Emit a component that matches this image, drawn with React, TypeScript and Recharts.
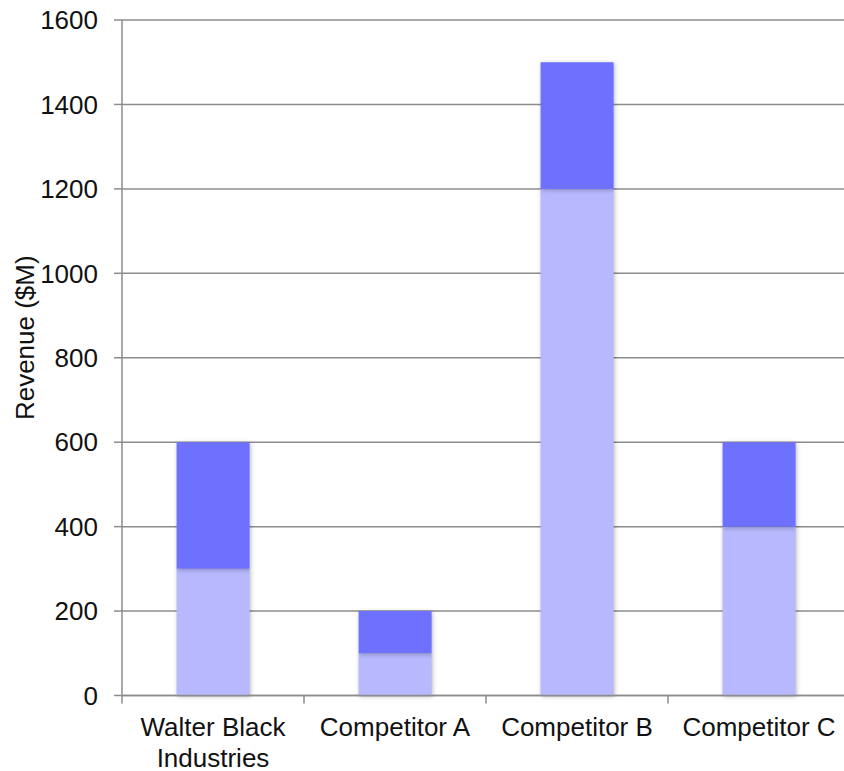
import React from 'react';
import { BarChart, Bar, XAxis, YAxis, CartesianGrid } from 'recharts';

const categories = ['Walter Black\nIndustries', 'Competitor A', 'Competitor B', 'Competitor C'];
const baseRevenue = [300, 100, 1200, 400];
const addedRevenue = [300, 100, 300, 200];
const yTicks = [0, 200, 400, 600, 800, 1000, 1200, 1400, 1600];

const data = categories.map((name, i) => ({
  name,
  base: baseRevenue[i],
  added: addedRevenue[i],
}));

const FONT = '"Liberation Sans", Arial, Helvetica, sans-serif';
const GRID = '#8c8c8c';
const FS = 26;

const CategoryTick = (props: any) => {
  const { x, y, payload, index } = props;
  const half = payload.offset || 0;
  const lines = String(payload.value).split('\n');
  return (
    <g>
      <line x1={x - half} x2={x - half} y1={y} y2={y + 8} stroke={GRID} strokeWidth={1.5} />
      {index === categories.length - 1 && (
        <line x1={x + half} x2={x + half} y1={y} y2={y + 8} stroke={GRID} strokeWidth={1.5} />
      )}
      <text x={x} y={y + 40} textAnchor="middle" fill="#111" fontSize={FS} fontFamily={FONT}>
        {lines.map((ln, i) => (
          <tspan key={i} x={x} dy={i === 0 ? 0 : 31}>
            {ln}
          </tspan>
        ))}
      </text>
    </g>
  );
};

const AxisTitle = (props: any) => {
  const { viewBox } = props;
  const cx = 34;
  const cy = viewBox.y + viewBox.height / 2 - 20;
  return (
    <text
      x={cx}
      y={cy}
      transform={`rotate(-90, ${cx}, ${cy})`}
      textAnchor="middle"
      fontSize={FS}
      fontFamily={FONT}
      fill="#111"
    >
      Revenue ($M)
    </text>
  );
};

export default function App() {
  return (
    <div style={{ position: 'fixed', left: 0, top: 0, width: 844, height: 771, overflow: 'hidden', background: '#fff' }}>
      <style>{`.recharts-bar-rectangle path { filter: drop-shadow(1px 1px 2px rgba(0,0,0,0.28)); }`}</style>
      <BarChart
        width={850}
        height={771}
        data={data}
        margin={{ top: 20, right: 0, bottom: 0, left: 0 }}
        barCategoryGap="30%"
      >
        <CartesianGrid vertical={false} stroke={GRID} strokeWidth={1.5} />
        <XAxis
          dataKey="name"
          height={75.5}
          axisLine={{ stroke: GRID, strokeWidth: 1.5 }}
          tickLine={false}
          tickSize={0}
          tickMargin={0}
          interval={0}
          tick={<CategoryTick />}
        />
        <YAxis
          width={122}
          domain={[0, 1600]}
          ticks={yTicks}
          interval={0}
          axisLine={{ stroke: GRID, strokeWidth: 1.5 }}
          tickLine={{ stroke: GRID, strokeWidth: 1.5 }}
          tickSize={8}
          tickMargin={16}
          tick={{ fontSize: FS, fontFamily: FONT, fill: '#111' }}
          label={<AxisTitle />}
        />
        <Bar dataKey="base" stackId="rev" fill="#b7b8fd" isAnimationActive={false} />
        <Bar dataKey="added" stackId="rev" fill="#6e70fe" isAnimationActive={false} />
      </BarChart>
    </div>
  );
}
